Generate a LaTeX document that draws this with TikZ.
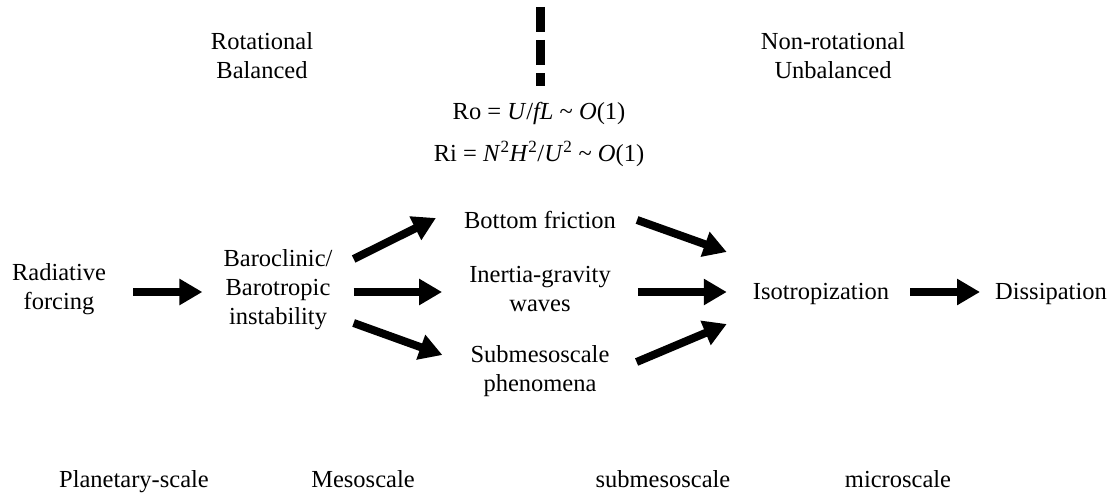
\documentclass[tikz,border=0pt]{standalone}
\usepackage{fontspec}
\setmainfont{Liberation Serif}
\usetikzlibrary{arrows.meta}
\tikzset{
  lbl/.style={font=\fontsize{24.5}{29}\selectfont, align=center, inner sep=0pt},
  fat/.style={->, line width=8pt},
}
\begin{document}
\begin{tikzpicture}[x=1pt, y=-1pt, >={Triangle[length=23pt,width=25pt]}]
\useasboundingbox (0,0) rectangle (1110,495);
% Regime boundary
\draw[line width=9pt, dash pattern=on 25pt off 8pt] (540,7) -- (540,86);
\node[lbl] (rot) at (262,56) {Rotational\\Balanced};
\node[lbl] (nonrot) at (833,56) {Non-rotational\\Unbalanced};
\node[lbl] (ro) at (539,113) {Ro = \textit{U}/\textit{fL} \textasciitilde{} \textit{O}(1)};
\node[lbl] (ri) at (539,154) {Ri = \textit{N}\textsuperscript{2}\textit{H}\textsuperscript{2}/\textit{U}\textsuperscript{2} \textasciitilde{} \textit{O}(1)};
% Energy pathway
\node[lbl] (rad) at (59,289) {Radiative\\forcing};
\node[lbl] (baro) at (278,290) {Baroclinic/\\Barotropic\\instability};
\node[lbl] (bottom) at (540,220) {Bottom friction};
\node[lbl] (igw) at (540,289) {Inertia-gravity\\waves};
\node[lbl] (sub) at (540,371) {Submesoscale\\phenomena};
\node[lbl] (iso) at (821,294) {Isotropization};
\node[lbl] (diss) at (1051,294) {Dissipation};
% Arrows
\draw[fat] ([shift={(27,3)}]rad.east) -- ([shift={(-21,2)}]baro.west);
\draw[fat] ([shift={(21,-31)}]baro.east) -- ([shift={(-28,-2)}]bottom.west);
\draw[fat] ([shift={(21,2)}]baro.east) -- ([shift={(-27,3)}]igw.west);
\draw[fat] ([shift={(21,33)}]baro.east) -- ([shift={(-28,-16)}]sub.west);
\draw[fat] ([shift={(21,0)}]bottom.east) -- ([shift={(-26,-42)}]iso.west);
\draw[fat] ([shift={(27,3)}]igw.east) -- ([shift={(-26,-2)}]iso.west);
\draw[fat] ([shift={(27,-9)}]sub.east) -- ([shift={(-26,30)}]iso.west);
\draw[fat] ([shift={(21,-2)}]iso.east) -- ([shift={(-15,-2)}]diss.west);
% Scales
\node[lbl, anchor=base] (planet) at (134,487) {Planetary-scale};
\node[lbl, anchor=base] (meso) at (363,487) {Mesoscale};
\node[lbl, anchor=base] (submeso) at (663,487) {submesoscale};
\node[lbl, anchor=base] (micro) at (898,487) {microscale};
\end{tikzpicture}
\end{document}
